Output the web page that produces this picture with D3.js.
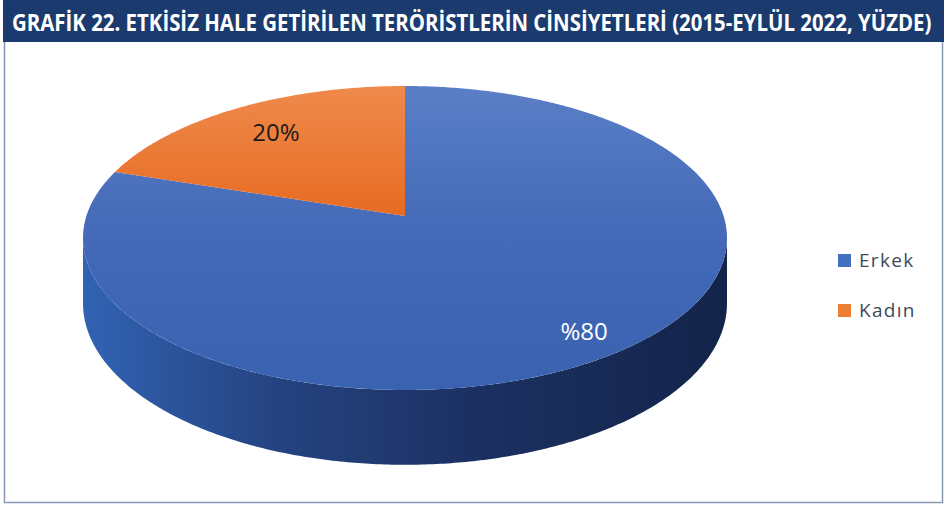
<!DOCTYPE html>
<html>
<head>
<meta charset="utf-8">
<script src="https://cdn.jsdelivr.net/npm/d3@7"></script>
<style>
  body { margin: 0; background: #fff; }
  svg { display: block; }
</style>
</head>
<body>
<script>
const title = 'GRAFİK 22. ETKİSİZ HALE GETİRİLEN TERÖRİSTLERİN CİNSİYETLERİ (2015-EYLÜL 2022, YÜZDE)'
const categories = ['Erkek', 'Kadın']
const values = [80, 20]
const valueLabels = ['%80', '20%']

const colors = ['blue', 'orange']
const labelColors = ['#ffffff', '#1a1a1a']
const labelR = [0.86, 0.75]

const width = 946
const height = 505

const svg = d3.select('body').append('svg')
  .attr('width', width)
  .attr('height', height)

const defs = svg.append('defs')

const gBlue = defs.append('linearGradient').attr('id', 'blue')
  .attr('gradientUnits', 'userSpaceOnUse')
  .attr('x1', 0).attr('y1', 86).attr('x2', 0).attr('y2', 392)
gBlue.append('stop').attr('offset', 0).attr('stop-color', '#5a7fc7')
gBlue.append('stop').attr('offset', 0.5).attr('stop-color', '#4369b7')
gBlue.append('stop').attr('offset', 1).attr('stop-color', '#3962b0')

const gOrange = defs.append('linearGradient').attr('id', 'orange')
  .attr('gradientUnits', 'userSpaceOnUse')
  .attr('x1', 0).attr('y1', 86).attr('x2', 0).attr('y2', 216)
gOrange.append('stop').attr('offset', 0).attr('stop-color', '#ef8a4c')
gOrange.append('stop').attr('offset', 1).attr('stop-color', '#e76b22')

const gSide = defs.append('linearGradient').attr('id', 'side')
  .attr('gradientUnits', 'userSpaceOnUse')
  .attr('x1', 82).attr('y1', 0).attr('x2', 728).attr('y2', 0)
gSide.append('stop').attr('offset', 0).attr('stop-color', '#3163b3')
gSide.append('stop').attr('offset', 0.3).attr('stop-color', '#254381')
gSide.append('stop').attr('offset', 0.6).attr('stop-color', '#1c3163')
gSide.append('stop').attr('offset', 1).attr('stop-color', '#13244a')

// title bar + frame
svg.append('rect')
  .attr('x', 4.5).attr('y', 40.5)
  .attr('width', 938).attr('height', 462)
  .attr('fill', 'none')
  .attr('stroke', '#8796b4')
  .attr('stroke-width', 1.5)

svg.append('rect')
  .attr('x', 3).attr('y', 0)
  .attr('width', 941).attr('height', 42)
  .attr('fill', '#1b3b6e')

const titleText = svg.append('text')
  .attr('font-family', 'Open Sans')
  .attr('font-weight', 700)
  .attr('font-size', 23)
  .attr('fill', '#fff')
  .text(title)

// squeeze the title so it fits like the condensed original
const tLen = titleText.node().getComputedTextLength()
titleText.attr('transform', `translate(12, 31) scale(${920 / tLen}, 1)`)

// perspective projection of the pie disc
const CX = 405, Y0 = 216, A = 318.6, B = -117.55, K = 0.1447, DEPTH = 64

function project(r, a) {
  const px = r * Math.sin(a), pz = r * Math.cos(a)
  const den = 1 + K * pz
  return [CX + A * px / den, (Y0 + B * pz) / den, den]
}

function bottom(a) {
  const p = project(1, a)
  return [p[0], p[1] + DEPTH / p[2]]
}

const pie = d3.pie().sort(null).value(d => d)
const arcs = pie(values)

const line = d3.line()
const chart = svg.append('g')

// side wall (front, visible part)
const aL = Math.acos(-K), aR = 2 * Math.PI - Math.acos(-K)
const topPts = d3.range(aL, aR, 0.01).concat([aR]).map(a => project(1, a).slice(0, 2))
const botPts = d3.range(aR, aL, -0.01).concat([aL]).map(a => bottom(a))
chart.append('path')
  .attr('d', line(topPts.concat(botPts)) + 'Z')
  .attr('fill', 'url(#side)')

// top faces
chart.selectAll('path.slice')
  .data(arcs)
  .enter()
  .append('path')
  .attr('class', 'slice')
  .attr('d', d => {
    const pts = [project(0, 0).slice(0, 2)]
    const n = Math.ceil((d.endAngle - d.startAngle) / 0.01)
    for (let i = 0; i <= n; i++) {
      const a = d.startAngle + (d.endAngle - d.startAngle) * i / n
      pts.push(project(1, a).slice(0, 2))
    }
    return line(pts) + 'Z'
  })
  .attr('fill', (d, i) => `url(#${colors[i]})`)

// value labels
chart.selectAll('text.val')
  .data(arcs)
  .enter()
  .append('text')
  .attr('class', 'val')
  .attr('x', (d, i) => project(labelR[i], (d.startAngle + d.endAngle) / 2)[0])
  .attr('y', (d, i) => project(labelR[i], (d.startAngle + d.endAngle) / 2)[1])
  .attr('dy', '0.35em')
  .attr('text-anchor', 'middle')
  .attr('font-family', 'Open Sans')
  .attr('font-size', 24)
  .attr('fill', (d, i) => labelColors[i])
  .text((d, i) => valueLabels[i])

// legend
const legend = svg.append('g')
  .selectAll('g')
  .data(categories)
  .enter()
  .append('g')
  .attr('transform', (d, i) => `translate(838, ${254 + i * 50})`)

legend.append('rect')
  .attr('width', 13).attr('height', 13)
  .attr('fill', (d, i) => i === 0 ? '#4470c0' : '#ed7d31')

legend.append('text')
  .attr('x', 21).attr('y', 12.5)
  .attr('font-family', 'Open Sans')
  .attr('font-size', 19)
  .attr('letter-spacing', 1.3)
  .attr('fill', '#404a58')
  .text(d => d)
</script>
</body>
</html>
